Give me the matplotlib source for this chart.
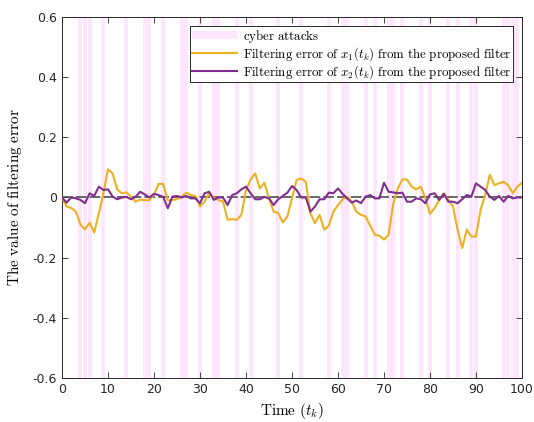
import numpy as np
import matplotlib
matplotlib.use("Agg")
import matplotlib.pyplot as plt

plt.rcParams['axes.unicode_minus'] = False
plt.rcParams['mathtext.fontset'] = 'cm'

# Time steps and sampled filtering errors
time_steps = np.arange(0, 101)

err_x1 = [0.0, -0.03, -0.035, -0.047, -0.09, -0.106, -0.084, -0.117, -0.053, 0.014,
          0.094, 0.08, 0.027, 0.014, 0.017, 0.003, -0.014, -0.007, -0.009, -0.009,
          0.01, 0.045, 0.045, -0.01, -0.008, -0.006, 0.003, 0.016, 0.008, 0.005,
          -0.03, -0.014, 0.014, 0.0, -0.008, -0.014, -0.074, -0.072, -0.074, -0.058,
          0.025, 0.06, 0.08, 0.03, 0.049, -0.003, -0.047, -0.052, -0.083, -0.063,
          -0.003, 0.058, 0.063, 0.052, -0.052, -0.085, -0.058, -0.107, -0.094, -0.047,
          -0.025, -0.006, 0.003, -0.014, -0.047, -0.058, -0.063, -0.094, -0.124, -0.127,
          -0.14, -0.124, -0.022, 0.03, 0.06, 0.06, 0.036, 0.027, 0.036, -0.003,
          -0.054, -0.036, -0.008, 0.014, -0.008, -0.03, -0.107, -0.168, -0.107, -0.13,
          -0.13, -0.041, 0.008, 0.075, 0.041, 0.047, 0.052, 0.041, 0.014, 0.036,
          0.049]

err_x2 = [0.0, -0.017, 0.0, -0.003, -0.008, -0.019, 0.014, 0.005, 0.036, 0.025,
          0.027, 0.003, -0.006, 0.0, 0.002, -0.006, 0.002, 0.019, 0.01, 0.0,
          0.012, 0.008, 0.002, -0.036, 0.003, 0.005, 0.0, 0.005, -0.003, -0.003,
          -0.019, 0.014, 0.019, -0.008, 0.0, 0.0, -0.025, 0.008, 0.014, 0.027,
          0.036, 0.014, -0.006, -0.006, 0.002, -0.003, -0.025, -0.006, 0.005, 0.016,
          0.038, 0.025, 0.0, 0.0, -0.047, -0.03, -0.006, -0.006, 0.016, 0.014,
          0.03, 0.012, -0.003, -0.017, -0.01, -0.019, 0.003, 0.008, -0.003, -0.003,
          0.049, 0.019, 0.017, 0.014, 0.016, -0.014, -0.014, -0.003, -0.006, -0.019,
          0.01, 0.014, -0.008, 0.012, -0.014, -0.014, -0.019, -0.006, 0.008, 0.003,
          0.047, 0.036, 0.025, 0.003, -0.008, 0.005, -0.014, 0.005, -0.003, 0.0,
          0.0]

# Time steps at which cyber attacks occur
attack_steps = [4, 5, 6, 9, 14, 18, 19, 22, 26, 27, 30, 33, 34, 38, 41, 47, 52,
                58, 61, 62, 66, 68, 71, 72, 74, 78, 80, 84, 86, 89, 90, 96, 97, 98, 99]

x_ticks = np.arange(0, 101, 10)
y_ticks = [-0.6, -0.4, -0.2, 0, 0.2, 0.4, 0.6]
y_tick_labels = ['-0.6', '-0.4', '-0.2', '0', '0.2', '0.4', '0.6']

c_x1 = '#EDB120'
c_x2 = '#7E2F8E'
c_attack = (1.0, 0.9, 1.0)
c_axis = '#262626'

fig = plt.figure(figsize=(5.34, 4.22), dpi=100)
ax = fig.add_axes([0.1161, 0.1043, 0.8614, 0.8555])

h_att = ax.bar(attack_steps, 1.2, bottom=-0.6, width=0.88, color=c_attack,
               linewidth=0, zorder=1)
ax.plot(time_steps, np.zeros_like(time_steps, dtype=float), color='0.25',
        lw=1.1, dashes=(7, 2), zorder=2)
h_x1, = ax.plot(time_steps, err_x1, color=c_x1, lw=1.5, zorder=3)
h_x2, = ax.plot(time_steps, err_x2, color=c_x2, lw=1.5, zorder=4)

ax.set_xlim(0, 100)
ax.set_ylim(-0.6, 0.6)
ax.set_xticks(x_ticks)
ax.set_yticks(y_ticks)
ax.set_yticklabels(y_tick_labels)
ax.tick_params(direction='in', top=True, right=True, length=4, width=0.6,
               colors=c_axis, labelsize=9, labelcolor=c_axis)
for sp in ax.spines.values():
    sp.set_color(c_axis)
    sp.set_linewidth(0.7)

ax.set_xlabel(r'$\mathrm{Time\ (}t_k\mathrm{)}$', fontsize=11, labelpad=4)
ax.set_ylabel(r'$\mathrm{The\ value\ of\ filtering\ error}$', fontsize=11, labelpad=6)

leg = ax.legend([h_att, h_x1, h_x2],
                [r'$\mathrm{cyber\ attacks}$',
                 r'$\mathrm{Filtering\ error\ of\ }x_1(t_k)\mathrm{\ from\ the\ proposed\ filter}$',
                 r'$\mathrm{Filtering\ error\ of\ }x_2(t_k)\mathrm{\ from\ the\ proposed\ filter}$'],
                loc='upper right', fontsize=9.3, frameon=True, fancybox=False,
                framealpha=1, edgecolor='0.15', handlelength=3.5,
                handleheight=0.6, borderaxespad=0.7, borderpad=0.12,
                labelspacing=0.03, handletextpad=0.45)
leg.get_frame().set_linewidth(0.7)

fig.savefig('out.png', dpi=100)
